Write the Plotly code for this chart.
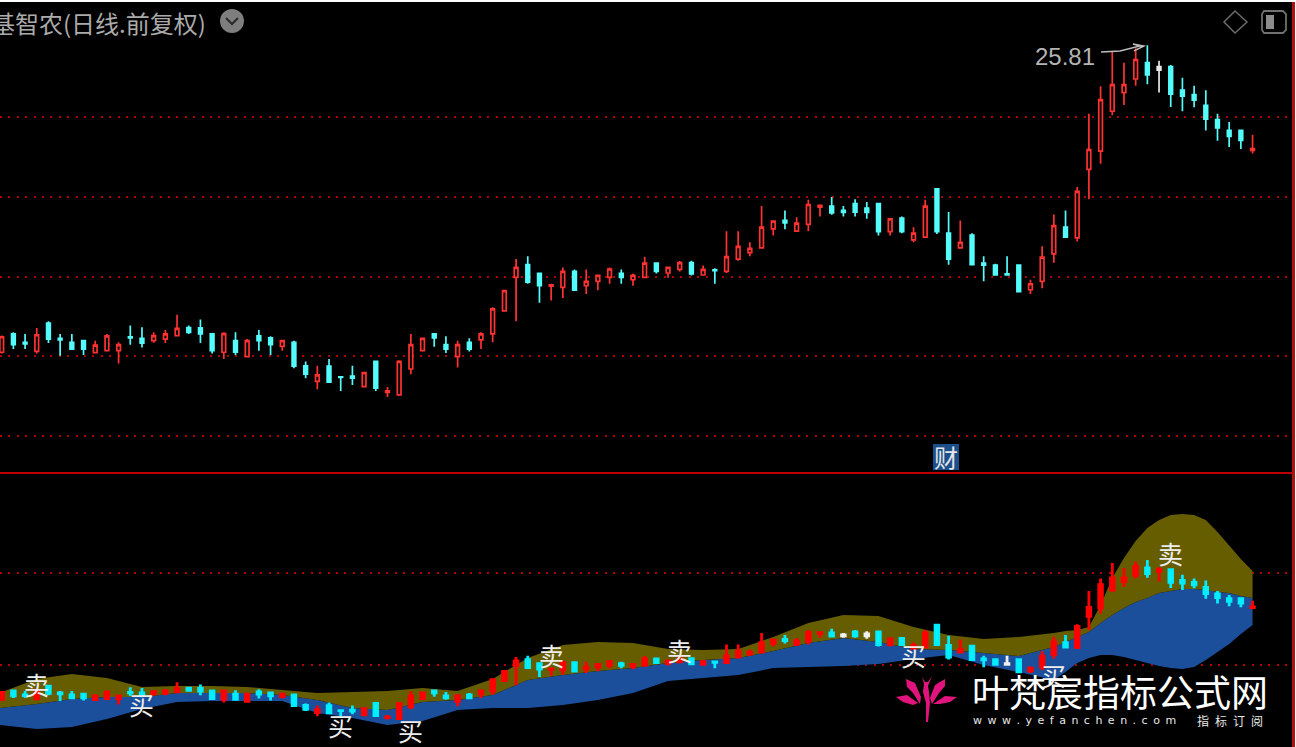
import plotly.graph_objects as go

# ---- daily bars, one value per session ----
opens = [18.10,18.56,18.35,18.12,18.83,18.45,18.35,18.39,18.09,18.14,18.14,18.49,18.45,18.39,18.43,18.52,18.72,18.71,18.56,18.10,18.39,17.99,18.51,18.46,18.25,18.35,17.76,17.37,17.75,17.48,17.50,17.24,17.87,17.09,17.03,17.68,
 18.14,18.56,18.29,17.99,18.35,18.41,18.56,19.14,19.98,20.30,20.08,19.76,19.73,20.13,19.77,19.88,19.98,20.08,19.92,19.98,20.34,20.09,20.18,20.35,20.04,20.17,20.13,20.44,20.60,20.72,21.20,21.41,21.14,21.31,
 21.74,21.77,21.66,21.83,21.72,21.83,21.13,21.47,20.92,20.99,22.20,21.09,20.72,21.04,20.34,20.29,20.07,20.29,19.67,19.88,20.57,21.24,20.97,22.69,23.15,24.15,24.62,24.96,25.37,25.18,25.27,24.68,24.57,24.30,23.94,23.67,23.67,23.17]
highs = [18.52,18.60,18.56,18.71,18.88,18.56,18.56,18.39,18.39,18.56,18.35,18.77,18.73,18.60,18.66,19.04,18.77,18.92,18.56,18.60,18.60,18.43,18.66,18.50,18.39,18.39,17.87,17.76,17.93,17.50,17.76,17.59,17.87,17.23,17.90,18.56,
 18.45,18.56,18.50,18.39,18.45,18.60,19.23,19.65,20.44,20.51,20.08,19.82,20.23,20.18,20.18,20.03,20.23,20.18,20.07,20.50,20.34,20.23,20.39,20.40,20.28,20.21,21.14,21.14,20.86,21.77,21.39,21.66,21.49,21.93,
 21.81,22.00,21.77,21.94,21.87,21.83,21.45,21.51,21.24,21.93,22.20,21.62,21.41,21.09,20.51,20.32,20.51,20.29,19.92,20.76,21.56,21.66,22.25,24.09,24.78,25.64,25.37,25.73,25.81,25.42,25.31,24.99,24.79,24.68,24.09,23.88,23.67,23.56]
lows = [18.07,18.18,18.18,18.07,18.33,18.01,18.18,18.03,18.09,18.14,17.82,18.29,18.22,18.34,18.33,18.52,18.56,18.33,18.07,17.93,18.03,17.99,18.14,18.03,18.14,17.70,17.45,17.17,17.35,17.13,17.28,17.24,17.13,16.98,17.03,17.55,
 18.14,18.24,18.08,17.72,18.12,18.18,18.35,19.14,18.88,19.82,19.34,19.40,19.46,19.66,19.56,19.66,19.82,19.82,19.77,19.98,20.08,19.97,20.13,20.03,20.04,19.82,20.09,20.40,20.51,20.72,21.03,21.19,21.14,21.14,
 21.51,21.55,21.51,21.51,21.45,21.03,21.03,21.09,20.86,20.99,21.07,20.30,20.72,20.30,19.88,20.03,20.03,19.62,19.56,19.71,20.35,20.99,20.88,21.94,22.83,24.05,24.31,24.79,24.83,24.62,24.26,24.15,24.25,23.67,23.41,23.25,23.20,23.09]
closes = [18.49,18.29,18.31,18.54,18.43,18.41,18.18,18.18,18.28,18.51,18.29,18.46,18.33,18.52,18.56,18.70,18.60,18.56,18.14,18.57,18.10,18.39,18.39,18.29,18.39,17.75,17.55,17.53,17.35,17.47,17.45,17.59,17.20,17.13,17.87,18.29,
 18.45,18.46,18.18,18.29,18.18,18.56,19.19,19.65,20.23,19.86,19.77,19.79,20.13,19.66,19.88,20.03,20.19,19.98,20.03,20.34,20.13,20.23,20.35,20.07,20.18,20.15,20.50,20.76,20.71,21.24,21.39,21.35,21.34,21.81,
 21.79,21.60,21.61,21.62,21.61,21.13,21.45,21.13,21.09,21.77,21.13,20.44,20.86,20.30,20.29,20.04,20.04,19.62,19.82,20.49,21.28,20.99,22.14,23.19,24.44,24.82,24.82,25.45,25.06,25.27,24.58,24.53,24.43,23.95,23.73,23.52,23.42,23.21]

# candles painted white instead of red / cyan in each panel
white_upper = [99]
white_lower = [72, 74, 86]

# ---- indicator bands in the lower panel ----
band_idx = [-0.2,3,6,9,12,15,18,21,24,27,30,33,36,39,42,45,48,51,54,57,60,63,66,69,72,75,78,81,84,87,90,91,92,93,94,95,96,97,98,99,100,101,102,103,104,105,106,107]
band_upper = [18.45,19.23,19.50,19.28,18.78,18.84,18.84,18.78,18.62,18.45,18.51,18.56,18.73,18.56,19.23,20.39,21.11,21.27,21.22,20.89,20.83,20.89,21.55,22.32,22.77,22.71,22.10,21.66,21.44,21.55,21.77,21.88,21.94,22.10,23.32,24.81,25.92,26.86,27.58,28.02,28.30,28.36,28.30,28.02,27.36,26.59,25.87,25.20]
band_mid = [17.62,17.84,18.12,18.23,18.23,18.45,18.45,18.45,18.34,18.06,17.62,17.51,17.95,18.06,18.34,19.17,19.45,19.67,19.83,20.11,20.28,20.39,20.77,21.22,21.49,21.27,20.89,20.83,20.66,20.50,21.00,21.27,21.55,21.83,22.32,22.77,23.15,23.49,23.71,23.98,24.10,24.21,24.21,24.15,24.04,23.98,23.82,23.71]
band_lower = [16.68,16.46,16.57,17.01,17.57,17.95,18.01,18.01,18.01,17.34,17.07,16.68,16.90,17.51,17.62,17.62,17.79,18.06,18.45,19.11,19.28,19.45,19.83,19.89,19.94,20.06,20.33,20.55,20.00,19.61,19.17,19.61,20.11,20.39,20.55,20.55,20.44,20.28,20.11,19.94,19.83,19.78,19.89,20.28,20.72,21.16,21.72,22.21]

# ---- signal labels ----
signal_idx = [3, 12, 29, 35, 47, 58, 78, 90, 100]
signal_price = [18.95, 17.84, 16.68, 16.40, 20.55, 20.83, 20.55, 19.45, 26.20]
signal_text = ["卖", "买", "买", "买", "卖", "卖", "买", "买", "卖"]

upper_grid = [16, 18, 20, 22, 24]
lower_grid = [20, 25.1]
title_text = "京基智农(日线.前复权)"
peak_label = "25.81"
event_text = "财"
brand_text = "叶梵宸指标公式网"
brand_url = "w\u2002w\u2002w\u2002.\u2002y\u2002e\u2002f\u2002a\u2002n\u2002c\u2002h\u2002e\u2002n\u2002.\u2002c\u2002o\u2002m"
brand_sub = "指\u2002标\u2002订\u2002阅"

W, H = 1296, 747
def px(x): return x / W
def py(y): return 1 - y / H

X_RANGE = [-0.145, 110.63]
n = len(opens)
idx = list(range(n))

def pick(seq, ids):
    return [seq[i] for i in ids]

fig = go.Figure()

def add_candles(ids, up_line, up_fill, down_line, down_fill, yaxis, lw):
    fig.add_trace(go.Candlestick(
        x=ids, open=pick(opens, ids), high=pick(highs, ids), low=pick(lows, ids), close=pick(closes, ids),
        xaxis="x", yaxis=yaxis, showlegend=False, whiskerwidth=0,
        increasing=dict(line=dict(color=up_line, width=lw), fillcolor=up_fill),
        decreasing=dict(line=dict(color=down_line, width=lw), fillcolor=down_fill)))

# upper panel
rest_upper = [i for i in idx if i not in white_upper]
add_candles(rest_upper, "#FF3232", "#000000", "#54FCFC", "#54FCFC", "y", 1.7)
add_candles(white_upper, "#E8E8E8", "#E8E8E8", "#E8E8E8", "#E8E8E8", "y", 1.7)

# lower panel bands
fig.add_trace(go.Scatter(x=band_idx, y=band_lower, xaxis="x", yaxis="y2", mode="lines",
                         line=dict(width=0), showlegend=False, hoverinfo="skip"))
fig.add_trace(go.Scatter(x=band_idx, y=band_mid, xaxis="x", yaxis="y2", mode="lines",
                         line=dict(width=0), fill="tonexty", fillcolor="#1B4F9C", showlegend=False, hoverinfo="skip"))
fig.add_trace(go.Scatter(x=band_idx, y=band_upper, xaxis="x", yaxis="y2", mode="lines",
                         line=dict(width=0), fill="tonexty", fillcolor="#665C00", showlegend=False, hoverinfo="skip"))

# lower panel candles on an overlaying axis so they sit above the bands
low_rest = [i for i in idx if i not in white_lower]
add_candles(low_rest, "#FF0000", "#FF0000", "#00ECFF", "#00FFFF", "y3", 2.8)
add_candles(white_lower, "#F0F0F0", "#F0F0F0", "#F0F0F0", "#F0F0F0", "y3", 2.8)

upper_top, upper_bot = 16 + (435 - 2) / 39.75, 16 + (435 - 472) / 39.75
lower_top, lower_bot = 20 + (665 - 474) * 0.05534, 20 + (665 - 747) * 0.05534

GRID = "#B00000"
annotations = []
annotations.append(dict(text=title_text, xref="paper", yref="paper", x=px(208), y=py(22), xanchor="right", yanchor="middle",
                        showarrow=False, font=dict(family="Noto Sans CJK SC", size=24, color="#ABABAB")))
annotations.append(dict(text=peak_label, xref="paper", yref="paper", x=px(1065), y=py(56), xanchor="center", yanchor="middle",
                        showarrow=False, font=dict(family="Liberation Sans", size=24, color="#B4B4B4")))
annotations.append(dict(text=event_text, xref="paper", yref="paper", x=px(946), y=py(457), xanchor="center", yanchor="middle",
                        showarrow=False, font=dict(family="Noto Sans CJK SC", size=24, color="#E6E6E6")))
for i, p, t in zip(signal_idx, signal_price, signal_text):
    annotations.append(dict(text=t, xref="x", yref="y2", x=i, y=p, xanchor="center", yanchor="middle", showarrow=False,
                            font=dict(family="Noto Sans CJK SC", size=25, color="#EDEDED")))
annotations.append(dict(text=brand_text, xref="paper", yref="paper", x=px(1120), y=py(691), xanchor="center", yanchor="middle",
                        showarrow=False, font=dict(family="Noto Sans CJK SC", size=37, color="#FFFFFF")))
annotations.append(dict(text=brand_url, xref="paper", yref="paper", x=px(971), y=py(720), xanchor="left", yanchor="middle",
                        showarrow=False, font=dict(family="DejaVu Sans", size=11, color="#E8E8E8")))
annotations.append(dict(text=brand_sub, xref="paper", yref="paper", x=px(1230), y=py(720), xanchor="center", yanchor="middle",
                        showarrow=False, font=dict(family="Noto Sans CJK SC", size=12, color="#E8E8E8")))

def path(points, close=True):
    s = "M " + " L ".join(f"{px(a):.5f},{py(b):.5f}" for a, b in points)
    return s + (" Z" if close else "")

PINK = "#E0147C"
def petal(points):
    return dict(type="path", xref="paper", yref="paper", path=path(points), fillcolor=PINK, line=dict(width=0))

shapes = [
    # separators
    dict(type="line", xref="paper", yref="paper", x0=0, x1=px(1292), y0=py(473), y1=py(473), line=dict(color="#C00000", width=2)),
    dict(type="line", xref="paper", yref="paper", x0=px(1293.5), x1=px(1293.5), y0=0, y1=py(2), line=dict(color="#B01010", width=3)),
    # event box
    dict(type="rect", xref="paper", yref="paper", x0=px(933), x1=px(959), y0=py(470), y1=py(444), fillcolor="#1B4F8C", line=dict(width=0), layer="below"),
    # title menu button
    dict(type="circle", xref="paper", yref="paper", x0=px(220), x1=px(244), y0=py(33), y1=py(9), fillcolor="#7E7E7E", line=dict(width=0)),
    dict(type="path", xref="paper", yref="paper", path=path([(226, 18), (232, 24), (238, 18)], False), line=dict(color="#2A2A2A", width=2)),
    # top right icons
    dict(type="path", xref="paper", yref="paper", path=path([(1235, 11), (1247, 22), (1235, 33), (1224, 22)]), line=dict(color="#6A6A6A", width=1.5)),
    dict(type="path", xref="paper", yref="paper",
         path=path([(1264, 11), (1283, 11), (1286, 14), (1286, 30), (1283, 33), (1264, 33), (1262, 30), (1262, 14)]),
         line=dict(color="#707070", width=1.8)),
    dict(type="rect", xref="paper", yref="paper", x0=px(1266), x1=px(1274), y0=py(29), y1=py(15), fillcolor="#8C8C8C", line=dict(width=0)),
    # leader from peak label to the high
    dict(type="path", xref="paper", yref="paper", path=path([(1101, 52), (1120, 51), (1140, 46), (1133, 44), (1144, 46), (1134, 51)], False), line=dict(color="#BEBEBE", width=1.4)),
    # lotus logo
    petal([(896, 697), (907, 695), (918, 703), (913, 705), (903, 702)]),
    petal([(957, 697), (945, 696), (933, 704), (940, 704), (950, 702)]),
    petal([(906, 679), (915, 683), (921, 697), (920, 704), (913, 693), (907, 687)]),
    petal([(945, 679), (935, 685), (930, 698), (932, 704), (939, 693), (945, 686)]),
    petal([(922, 677), (924, 684), (923, 692), (926, 703), (926, 722), (928, 722), (930, 703), (929, 692), (928, 686), (932, 676), (928, 682), (925, 682)]),
]

fig.update_layout(
    width=W, height=H, margin=dict(l=0, r=0, t=0, b=0), autosize=False,
    paper_bgcolor="#FFFFFF", plot_bgcolor="#000000", showlegend=False, boxgap=0.55,
    xaxis=dict(range=X_RANGE, domain=[0, px(1295)], anchor="y", visible=False, rangeslider=dict(visible=False), fixedrange=True),
    yaxis=dict(range=[upper_bot, upper_top], domain=[py(473), py(2)], anchor="x", tickvals=upper_grid, showticklabels=False,
               showgrid=True, gridcolor=GRID, griddash="2px 6.4px", gridwidth=2, zeroline=False, showline=False, ticks="", fixedrange=True),
    yaxis2=dict(range=[lower_bot, lower_top], domain=[0, py(474)], anchor="free", position=0, tickvals=lower_grid, showticklabels=False,
                showgrid=True, gridcolor=GRID, griddash="2px 6.4px", gridwidth=2, zeroline=False, showline=False, ticks="", fixedrange=True),
    yaxis3=dict(range=[lower_bot, lower_top], domain=[0, py(474)], overlaying="y2", anchor="free", position=0, visible=False, showgrid=False, fixedrange=True),
    annotations=annotations, shapes=shapes,
)

fig.write_html("out.html", config=dict(displayModeBar=False),
               post_script="document.body.style.margin='0';document.body.style.background='#000';document.documentElement.style.overflow='hidden';")
